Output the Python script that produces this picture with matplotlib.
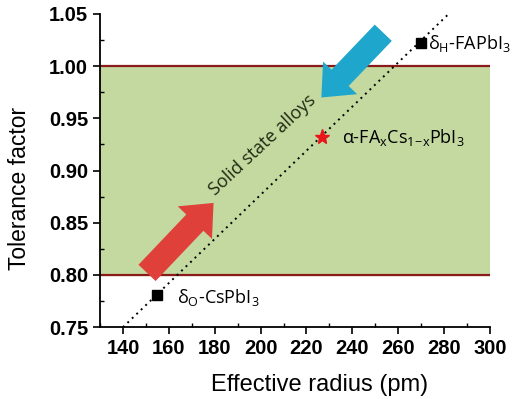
import numpy as np
import matplotlib.pyplot as plt
from matplotlib.ticker import MultipleLocator

plt.rcParams["font.family"] = ["Liberation Sans", "DejaVu Sans"]

# reference compounds: effective radius (pm) vs tolerance factor
radius_cs, tol_cs = 155, 0.781
radius_fa, tol_fa = 270, 1.022
radius_alloy, tol_alloy = 227, 0.932

# stable perovskite window
tol_low, tol_high = 0.80, 1.00

# trend line end points
trend_x = [140, 282]
trend_y = [0.75, 1.05]

# arrows (tail -> tip) in data units
red_tail, red_tip = (150.5, 0.802), (179.5, 0.869)
blue_tail, blue_tip = (253.5, 1.032), (226.5, 0.970)

fig = plt.figure(figsize=(5.13, 3.99), dpi=100)
ax = fig.add_axes([0.195, 0.18, 0.76, 0.785])

ax.axhspan(tol_low, tol_high, color="#c3d9a0", zorder=0)
ax.axhline(tol_high, color="#8b1a1a", lw=1.6, zorder=1)
ax.axhline(tol_low, color="#8b1a1a", lw=1.6, zorder=1)

ax.plot(trend_x, trend_y, ls=(0, (1, 2.2)), color="black", lw=1.4, zorder=2)

ax.plot([radius_cs], [tol_cs], "s", color="black", ms=7, zorder=4)
ax.plot([radius_fa], [tol_fa], "s", color="black", ms=7, zorder=4)
ax.plot([radius_alloy], [tol_alloy], "*", color="#e8161b", ms=11, zorder=4)

lab_font = dict(family=["Open Sans", "DejaVu Sans"], fontsize=13, va="center")
ax.text(radius_cs + 8.5, tol_cs - 0.003, r"$\mathregular{\delta_O}$-CsPbI$_\mathregular{3}$", **lab_font)
ax.text(radius_fa + 3, tol_fa, r"$\mathregular{\delta_H}$-FAPbI$_\mathregular{3}$", **lab_font)
ax.text(radius_alloy + 8.5, tol_alloy,
        r"$\mathregular{\alpha}$-FA$_\mathregular{x}$Cs$_\mathregular{1\!-\!x}$PbI$_\mathregular{3}$",
        **lab_font)

ax.text(201, 0.924, "Solid state alloys", rotation=43, rotation_mode="anchor",
        ha="center", va="center", fontsize=13, color="#1f2a10",
        family=["Open Sans", "DejaVu Sans"])

# direction arrows
arrow_style = "simple,tail_width=1.0,head_width=2.0,head_length=1.15"
for tail, tip, col in [(red_tail, red_tip, "#e0403a"), (blue_tail, blue_tip, "#1fa6cc")]:
    ax.annotate("", xy=tip, xytext=tail, zorder=3,
                arrowprops=dict(arrowstyle=arrow_style, mutation_scale=17,
                                color=col, shrinkA=0, shrinkB=0, lw=0))

ax.set_xlim(130, 300)
ax.set_ylim(0.75, 1.05)
ax.xaxis.set_major_locator(MultipleLocator(20))
ax.xaxis.set_minor_locator(MultipleLocator(10))
ax.yaxis.set_major_locator(MultipleLocator(0.05))
ax.yaxis.set_minor_locator(MultipleLocator(0.025))
ax.yaxis.set_major_formatter(plt.FormatStrFormatter("%.2f"))
ax.tick_params(which="major", direction="out", length=5, width=1.2, labelsize=14.5)
ax.tick_params(which="minor", direction="in", length=3, width=1.0)
for s in ["top", "right"]:
    ax.spines[s].set_visible(False)
for s in ["left", "bottom"]:
    ax.spines[s].set_linewidth(1.3)
for lab in ax.get_xticklabels() + ax.get_yticklabels():
    lab.set_fontweight("bold")

ax.set_xlabel("Effective radius (pm)", fontsize=17)
ax.set_ylabel("Tolerance factor", fontsize=16.5)
ax.xaxis.set_label_coords(0.564, -0.15)
ax.yaxis.set_label_coords(-0.177, 0.444)

fig.savefig("out.png", dpi=100)
